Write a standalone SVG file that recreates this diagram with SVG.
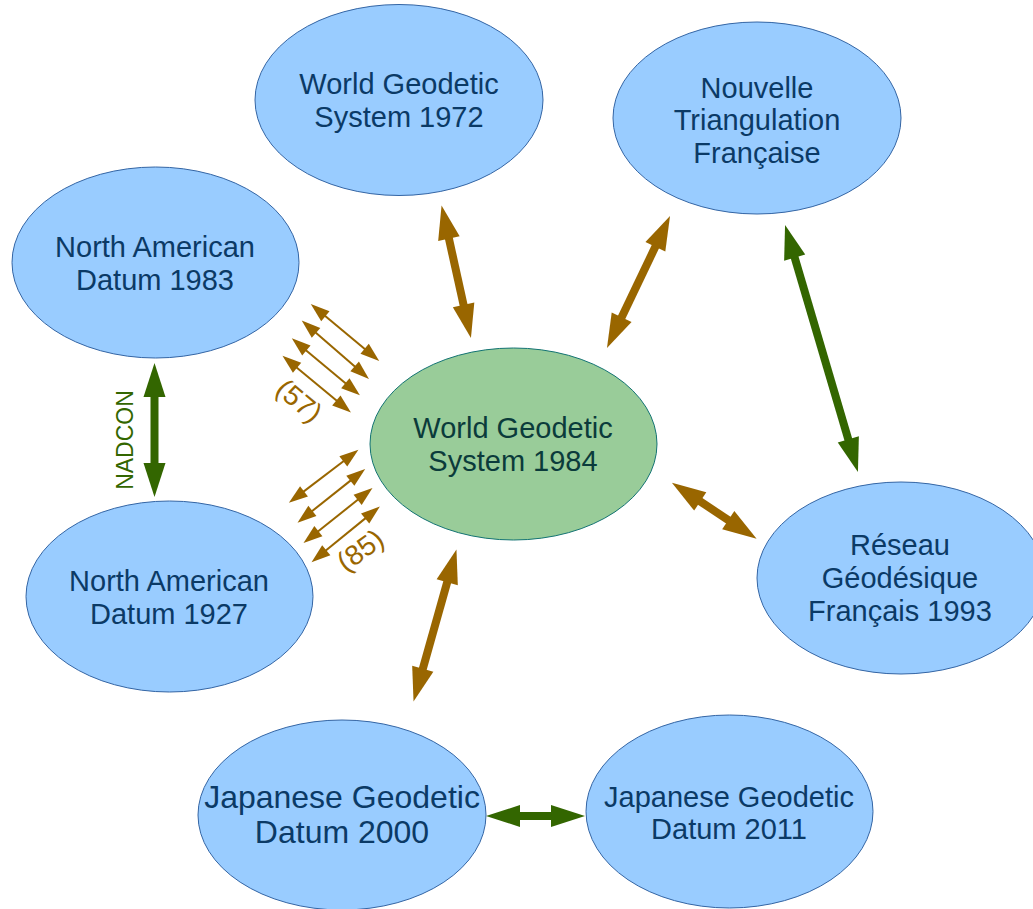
<svg xmlns="http://www.w3.org/2000/svg" width="1033" height="909" viewBox="0 0 1033 909">
<style>
.blue{fill:#99ccff;stroke:#3465a4;stroke-width:1}
.green{fill:#99cc99;stroke:#137373;stroke-width:1}
.t{font-family:"Liberation Sans",Arial,sans-serif;font-size:29px;text-anchor:middle;fill:#0b3a66}
.tg{fill:#0b3b3b}
.big{font-size:32px}
.thick{fill:none;stroke-width:8}
.br{stroke:#996600}
.gr{stroke:#336600}
.thin{fill:none;stroke:#996600;stroke-width:2}
.lbl{font-family:"Liberation Sans",Arial,sans-serif;font-size:28px;text-anchor:middle}
</style>
<defs>
<marker id="hb" markerUnits="userSpaceOnUse" viewBox="0 -11 34 22" markerWidth="34" markerHeight="22" refX="1" refY="0" orient="auto-start-reverse" overflow="visible">
<path d="M0,-11 L34,0 L0,11 Z" fill="#996600"/>
</marker>
<marker id="hg" markerUnits="userSpaceOnUse" viewBox="0 -11 34 22" markerWidth="34" markerHeight="22" refX="1" refY="0" orient="auto-start-reverse" overflow="visible">
<path d="M0,-11 L34,0 L0,11 Z" fill="#336600"/>
</marker>
<marker id="hs" markerUnits="userSpaceOnUse" viewBox="0 -6.5 19 13" markerWidth="19" markerHeight="13" refX="1" refY="0" orient="auto-start-reverse" overflow="visible">
<path d="M0,-6.5 L19,0 L0,6.5 Z" fill="#996600"/>
</marker>
</defs>

<g id="connectors">
<line class="thick br" x1="448.7" y1="237.7" x2="463.8" y2="305.8" marker-start="url(#hb)" marker-end="url(#hb)"/>
<line class="thick br" x1="655.8" y1="245.8" x2="621.2" y2="318.2" marker-start="url(#hb)" marker-end="url(#hb)"/>
<line class="thick gr" x1="794.4" y1="256.6" x2="848.6" y2="440.4" marker-start="url(#hg)" marker-end="url(#hg)"/>
<line class="thick br" x1="699.4" y1="500.9" x2="729.1" y2="520.6" marker-start="url(#hb)" marker-end="url(#hb)"/>
<line class="thick br" x1="447.5" y1="581.2" x2="422.5" y2="669.8" marker-start="url(#hb)" marker-end="url(#hb)"/>
<line class="thick gr" x1="519" y1="816" x2="552" y2="816" marker-start="url(#hg)" marker-end="url(#hg)"/>
<line class="thick gr" x1="154.5" y1="396" x2="154.5" y2="464" marker-start="url(#hg)" marker-end="url(#hg)"/>

<line class="thin" x1="324.6" y1="315.5" x2="365.4" y2="349.5" marker-start="url(#hs)" marker-end="url(#hs)"/>
<line class="thin" x1="315.3" y1="332.2" x2="355.4" y2="367.1" marker-start="url(#hs)" marker-end="url(#hs)"/>
<line class="thin" x1="305.6" y1="349.9" x2="346.1" y2="383.8" marker-start="url(#hs)" marker-end="url(#hs)"/>
<line class="thin" x1="296.3" y1="367.2" x2="337.1" y2="401.1" marker-start="url(#hs)" marker-end="url(#hs)"/>

<line class="thin" x1="303.2" y1="491.9" x2="344.1" y2="460.7" marker-start="url(#hs)" marker-end="url(#hs)"/>
<line class="thin" x1="311.6" y1="511.5" x2="351.1" y2="480.1" marker-start="url(#hs)" marker-end="url(#hs)"/>
<line class="thin" x1="317.6" y1="531.7" x2="358.4" y2="499.3" marker-start="url(#hs)" marker-end="url(#hs)"/>
<line class="thin" x1="325.5" y1="550.8" x2="365.9" y2="517.9" marker-start="url(#hs)" marker-end="url(#hs)"/>

<text class="lbl" fill="#996600" transform="translate(293,408) rotate(40)">(57)</text>
<text class="lbl" fill="#996600" transform="translate(366,558) rotate(-36)">(85)</text>
<text class="lbl" fill="#336600" transform="translate(133,440) rotate(-90)" style="font-size:23px">NADCON</text>
</g>

<g id="wgs72">
<ellipse class="blue" cx="399" cy="100" rx="144" ry="95.5"/>
<text class="t" x="399" y="94">World Geodetic</text>
<text class="t" x="399" y="127">System 1972</text>
</g>
<g id="ntf">
<ellipse class="blue" cx="757" cy="118" rx="144" ry="96"/>
<text class="t" x="757" y="98">Nouvelle</text>
<text class="t" x="757" y="130">Triangulation</text>
<text class="t" x="757" y="163">Française</text>
</g>
<g id="nad83">
<ellipse class="blue" cx="155.5" cy="262.5" rx="143.5" ry="95.5"/>
<text class="t" x="155" y="257">North American</text>
<text class="t" x="155" y="290">Datum 1983</text>
</g>
<g id="wgs84">
<ellipse class="green" cx="513.5" cy="444" rx="143.5" ry="96"/>
<text class="t tg" x="513" y="438">World Geodetic</text>
<text class="t tg" x="513" y="471">System 1984</text>
</g>
<g id="nad27">
<ellipse class="blue" cx="169.5" cy="596.5" rx="143.5" ry="95.5"/>
<text class="t" x="169" y="591">North American</text>
<text class="t" x="169" y="624">Datum 1927</text>
</g>
<g id="rgf93">
<ellipse class="blue" cx="901" cy="578" rx="144" ry="96"/>
<text class="t" x="900" y="555">Réseau</text>
<text class="t" x="900" y="588">Géodésique</text>
<text class="t" x="900" y="621">Français 1993</text>
</g>
<g id="jgd2000">
<ellipse class="blue" cx="342" cy="815" rx="144" ry="95"/>
<text class="t big" x="342" y="808">Japanese Geodetic</text>
<text class="t big" x="342" y="843">Datum 2000</text>
</g>
<g id="jgd2011">
<ellipse class="blue" cx="729.5" cy="811.5" rx="143.5" ry="96.5"/>
<text class="t" x="729" y="807">Japanese Geodetic</text>
<text class="t" x="729" y="839">Datum 2011</text>
</g>
</svg>
